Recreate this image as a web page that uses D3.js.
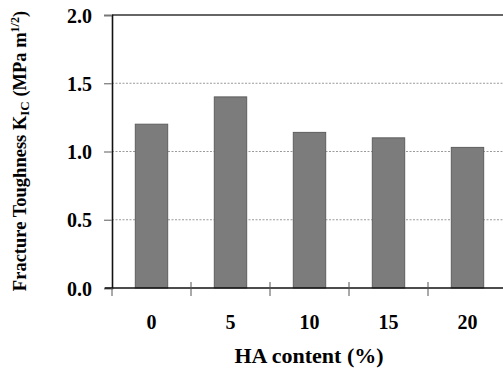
<!DOCTYPE html>
<html><head><meta charset="utf-8">
<script src="https://cdn.jsdelivr.net/npm/d3@7/dist/d3.min.js"></script>
<style>body{margin:0;background:#fff;}svg{display:block;}</style>
</head><body>
<svg id="c" width="503" height="369"></svg>
<script>
const categories = ["0","5","10","15","20"];
const values = [1.20, 1.40, 1.14, 1.10, 1.03];
const yTicks = [0, 0.5, 1.0, 1.5, 2.0];
const gridTicks = [0.5, 1.0, 1.5];

const svg = d3.select("#c");
const L = 112, R = 507, T = 15, B = 288;
const x = d3.scaleBand().domain(categories).range([L, R]).paddingInner(0.59).paddingOuter(0.295);
const y = d3.scaleLinear().domain([0, 2]).range([B, T]);
const font = "'Liberation Serif','Times New Roman',serif";

// gridlines
svg.append("g").selectAll("line").data(gridTicks).join("line")
  .attr("x1", L).attr("x2", R).attr("y1", d => y(d)).attr("y2", d => y(d))
  .attr("stroke", "#9a9a9a").attr("stroke-width", 1).attr("stroke-dasharray", "2,1.5");

// top border
svg.append("line").attr("x1", L).attr("x2", R).attr("y1", y(2)).attr("y2", y(2))
  .attr("stroke", "#333").attr("stroke-width", 1.5);

// bars
svg.append("g").selectAll("rect").data(values).join("rect")
  .attr("x", (d, i) => x(categories[i]))
  .attr("width", x.bandwidth())
  .attr("y", d => y(d))
  .attr("height", d => y(0) - y(d))
  .attr("fill", "#7c7c7c").attr("stroke", "#5e5e5e").attr("stroke-width", 1);

// y axis
const yAxis = d3.axisLeft(y).tickValues(yTicks).tickSize(8).tickFormat(d3.format(".1f"));
const gy = svg.append("g").attr("transform", `translate(${L},0)`).call(yAxis);
gy.attr("font-family", font);
gy.select(".domain").attr("stroke", "#111").attr("stroke-width", 1.6);
gy.selectAll(".tick line").attr("stroke", "#777").attr("stroke-width", 1.2);
gy.selectAll(".tick text").attr("font-family", font).attr("font-weight", "bold")
  .attr("font-size", 20).attr("fill", "#000").attr("x", -20).attr("dy", "7px");

// x axis baseline
svg.append("line").attr("x1", L - 7).attr("x2", R).attr("y1", B).attr("y2", B)
  .attr("stroke", "#111").attr("stroke-width", 1.6);

// boundary ticks
const bounds = d3.range(categories.length + 1).map(k => L + k * x.step());
svg.append("g").selectAll("line").data(bounds).join("line")
  .attr("x1", d => d).attr("x2", d => d)
  .attr("y1", (d, i) => i === 0 ? B : B - 6).attr("y2", B + 8)
  .attr("stroke", "#555").attr("stroke-width", 1);

// category labels
svg.append("g").selectAll("text").data(categories).join("text")
  .attr("x", d => x(d) + x.bandwidth() / 2).attr("y", 329)
  .attr("text-anchor", "middle").attr("font-family", font).attr("font-weight", "bold")
  .attr("font-size", 20).text(d => d);

// x title
svg.append("text").attr("x", 309).attr("y", 363).attr("text-anchor", "middle")
  .attr("font-family", font).attr("font-weight", "bold").attr("font-size", 22)
  .text("HA content (%)");

// y title
const yt = svg.append("text").attr("transform", "translate(26,151) rotate(-90)")
  .attr("text-anchor", "middle").attr("font-family", font).attr("font-weight", "bold")
  .attr("font-size", 18.5);
yt.append("tspan").text("Fracture Toughness K");
yt.append("tspan").attr("font-size", 13).attr("dy", 3).text("IC");
yt.append("tspan").attr("dy", -3).text(" (MPa m");
yt.append("tspan").attr("font-size", 12).attr("dy", -7).text("1/2");
yt.append("tspan").attr("dy", 7).text(")");
</script>
</body></html>
